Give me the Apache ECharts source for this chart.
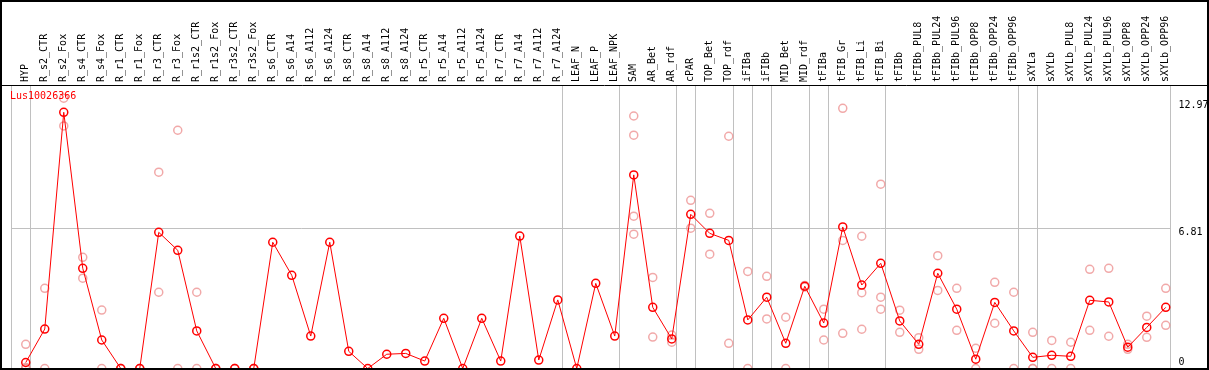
<!DOCTYPE html>
<html>
<head>
<meta charset="utf-8">
<script src="https://cdn.jsdelivr.net/npm/echarts@6/dist/echarts.min.js"></script>
<style>
html,body{margin:0;padding:0;background:#fff;}
#chart{width:1209px;height:370px;}
</style>
</head>
<body>
<div id="chart"></div>
<script>
const categories = ['HYP','R_s2_CTR','R_s2_Fox','R_s4_CTR','R_s4_Fox','R_r1_CTR','R_r1_Fox','R_r3_CTR','R_r3_Fox','R_r1s2_CTR','R_r1s2_Fox','R_r3s2_CTR','R_r3s2_Fox','R_s6_CTR','R_s6_A14','R_s6_A112','R_s6_A124','R_s8_CTR','R_s8_A14','R_s8_A112','R_s8_A124','R_r5_CTR','R_r5_A14','R_r5_A112','R_r5_A124','R_r7_CTR','R_r7_A14','R_r7_A112','R_r7_A124','LEAF_N','LEAF_P','LEAF_NPK','SAM','AR_Bet','AR_rdf','cPAR','TOP_Bet','TOP_rdf','iFIBa','iFIBb','MID_Bet','MID_rdf','tFIBa','tFIB_Gr','tFIB_Li','tFIB_Bi','tFIBb','tFIBb_PUL8','tFIBb_PUL24','tFIBb_PUL96','tFIBb_OPP8','tFIBb_OPP24','tFIBb_OPP96','sXYLa','sXYLb','sXYLb_PUL8','sXYLb_PUL24','sXYLb_PUL96','sXYLb_OPP8','sXYLb_OPP24','sXYLb_OPP96'];

// sizes of the column groups separated by vertical lines
const groupSizes = [1, 28, 3, 3, 1, 2, 1, 1, 2, 1, 3, 7, 1, 7];

const geneName = 'Lus10026366';

const meanValues = [0.29,1.91,12.40,4.85,1.38,0,0,6.59,5.72,1.82,0,0,0,6.11,4.51,1.57,6.11,0.83,0,0.69,0.73,0.36,2.43,0,2.43,0.36,6.41,0.41,3.32,0,4.12,1.57,9.37,2.96,1.43,7.46,6.54,6.20,2.35,3.45,1.22,3.98,2.20,6.85,4.04,5.09,2.30,1.17,4.61,2.87,0.45,3.20,1.82,0.54,0.64,0.59,3.30,3.22,1.03,1.99,2.96];

const rep1 = [1.17,3.88,13.08,5.38,2.83,0,0,9.50,11.53,3.69,0,0,0,null,null,null,null,null,null,null,null,null,null,null,null,null,null,null,null,null,null,null,12.22,4.41,1.62,8.14,7.51,11.24,4.70,4.46,2.48,4.02,2.87,12.59,6.40,8.92,2.82,1.49,5.46,3.88,0.98,4.17,3.69,1.75,1.36,1.27,4.80,4.85,1.17,2.53,3.88];
const rep2 = [0.05,0,11.74,4.37,0,0,0,3.69,0,0,0,0,0,null,null,null,null,null,null,null,null,null,null,null,null,null,null,null,null,null,null,null,11.29,1.52,1.27,6.79,5.53,1.22,0,2.40,0,3.94,1.38,6.20,3.67,3.45,1.75,0.93,3.78,1.85,0,2.19,0,0,0,0,1.85,1.56,0.93,1.51,2.09];
const rep3 = [0,null,null,null,null,null,null,null,null,null,null,null,null,null,null,null,null,null,null,null,null,null,null,null,null,null,null,null,null,null,null,null,7.37,null,null,null,null,null,null,null,null,null,null,1.70,1.90,2.87,null,null,null,null,null,null,null,0,null,null,null,null,null,null,null];
const rep4 = [0,null,null,null,null,null,null,null,null,null,null,null,null,null,null,null,null,null,null,null,null,null,null,null,null,null,null,null,null,null,null,null,6.50,null,null,null,null,null,null,null,null,null,null,null,null,null,null,null,null,null,null,null,null,null,null,null,null,null,null,null,null];

const yTickLabels = [0, 6.81, 12.97];
const yGridValues = [6.81];

// ---- build options ----
const separators = [-0.75];
let acc = 0;
groupSizes.forEach(s => { acc += s; separators.push(acc - 0.75); });

const repPoints = [];
[rep1, rep2, rep3, rep4].forEach(arr => {
  arr.forEach((v, i) => { if (v !== null) repPoints.push([i, v]); });
});
const linePoints = meanValues.map((v, i) => [i, v]);
const catIdx = categories.map((c, i) => i);

const FONT = 'DejaVu Sans Mono';
const chart = echarts.init(document.getElementById('chart'), null, {renderer: 'canvas'});
chart.setOption({
  animation: false,
  backgroundColor: '#ffffff',
  title: {
    text: geneName,
    left: 10, top: 91, padding: 0,
    textStyle: {color: '#ff0000', fontFamily: FONT, fontSize: 10, fontWeight: 'normal'}
  },
  grid: {left: 11.5, right: 38.5, top: 85, bottom: 1.5, containLabel: false, outerBoundsMode: 'none'},
  xAxis: {
    type: 'value',
    position: 'top',
    min: -0.75, max: 60.25,
    axisLine: {show: false},
    axisTick: {
      show: true, inside: false, length: 85,
      customValues: separators,
      lineStyle: {color: '#c0c0c0', width: 1}
    },
    splitLine: {show: true, lineStyle: {color: '#c0c0c0', width: 1}},
    axisLabel: {
      show: true,
      customValues: catIdx,
      rotate: 90,
      margin: 3,
      formatter: v => categories[Math.round(v)] || '',
      color: '#000', fontFamily: FONT, fontSize: 10
    }
  },
  yAxis: {
    type: 'value',
    position: 'right',
    min: 0, max: 13.72,
    axisLine: {show: false},
    axisTick: {show: false, customValues: yGridValues},
    splitLine: {show: true, lineStyle: {color: '#c0c0c0', width: 1}},
    axisLabel: {
      show: true,
      customValues: yTickLabels,
      margin: 8,
      formatter: v => (v === 0 ? '{b|0}' : '{t|' + v + '}'),
      rich: {
        t: {fontFamily: FONT, fontSize: 10, lineHeight: 10, color: '#000', padding: [10, 0, 0, 0]},
        b: {fontFamily: FONT, fontSize: 10, lineHeight: 10, color: '#000', padding: [0, 0, 13, 0]}
      }
    }
  },
  graphic: [
    {type: 'line', shape: {x1: 0, y1: 85.5, x2: 1209, y2: 85.5}, style: {stroke: '#000', lineWidth: 1}, z: 100},
    {type: 'rect', shape: {x: 1, y: 1, width: 1207, height: 368}, style: {fill: 'none', stroke: '#000', lineWidth: 2}, z: 100}
  ],
  series: [
    {
      type: 'scatter',
      data: repPoints,
      symbol: 'circle',
      symbolSize: 8,
      clip: false,
      itemStyle: {color: 'rgba(0,0,0,0)', borderColor: '#ee9494', borderWidth: 1.5},
      z: 2
    },
    {
      type: 'line',
      data: linePoints,
      symbol: 'circle',
      symbolSize: 8,
      showAllSymbol: true,
      clip: false,
      lineStyle: {color: '#ff0000', width: 1},
      itemStyle: {color: 'rgba(0,0,0,0)', borderColor: '#ff0000', borderWidth: 1.5},
      z: 3
    }
  ]
});
</script>
</body>
</html>
